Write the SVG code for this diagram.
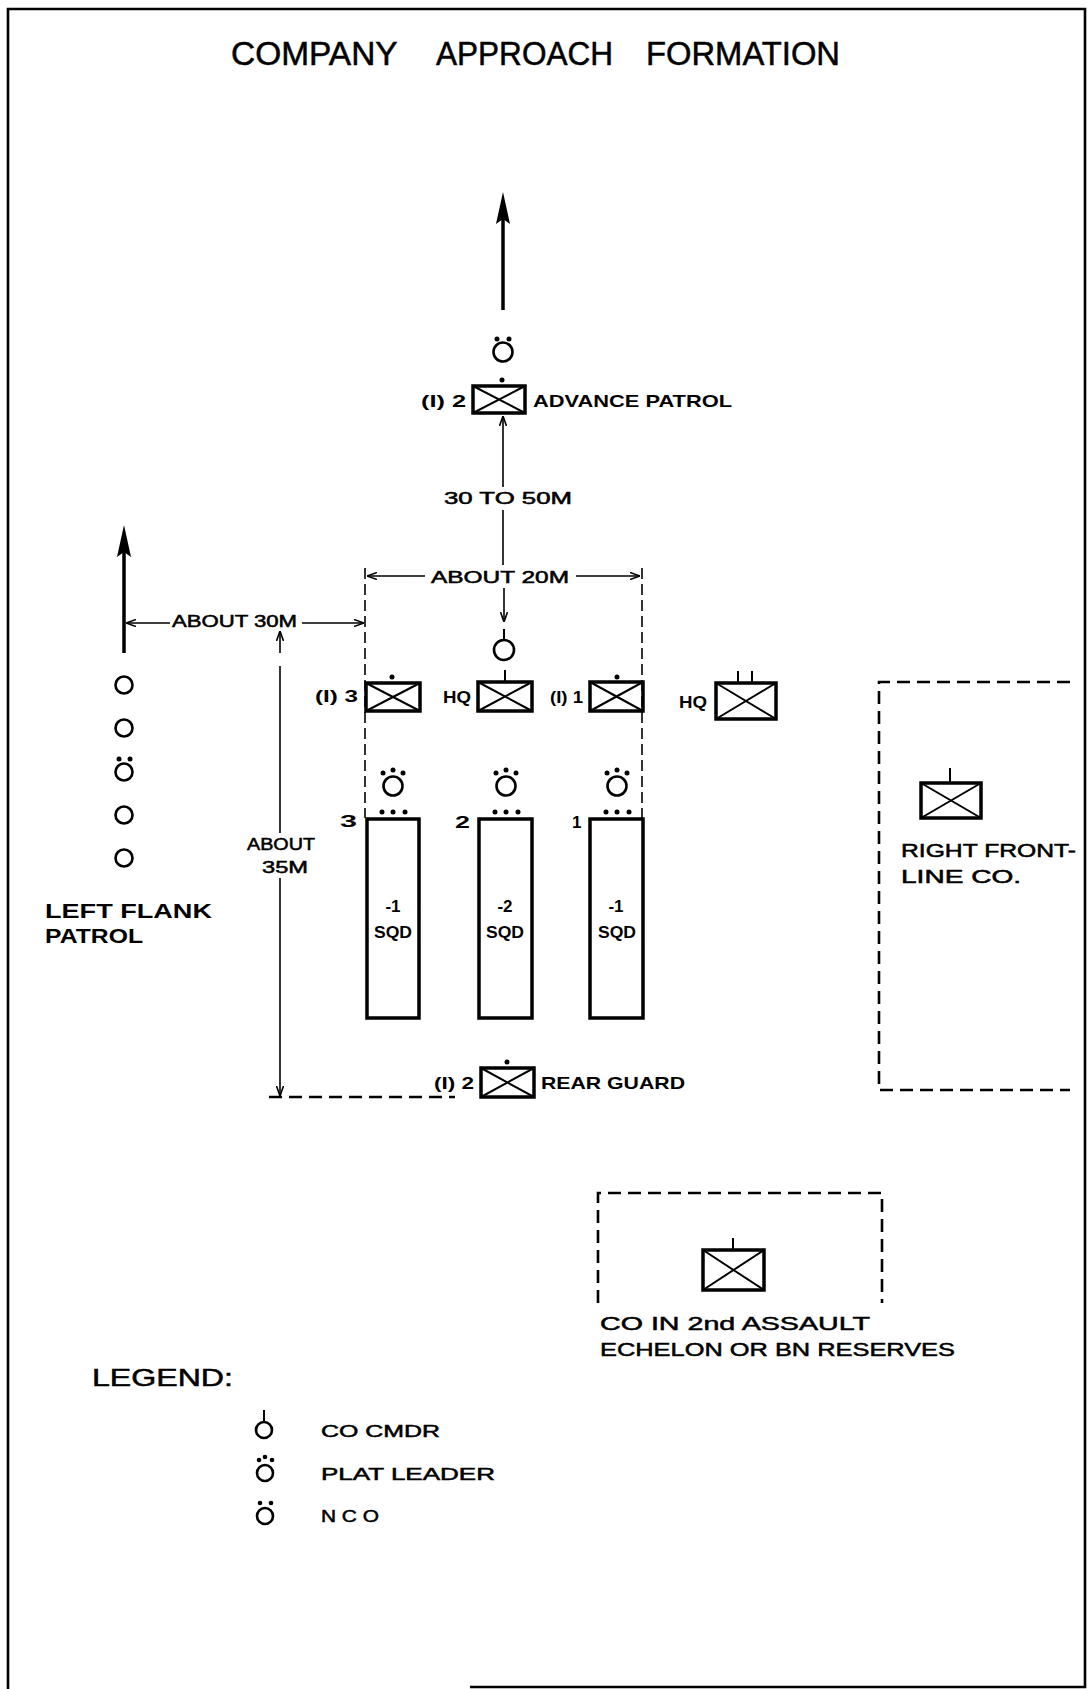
<svg xmlns="http://www.w3.org/2000/svg" width="1088" height="1689" viewBox="0 0 1088 1689">
<style>
text{font-family:"Liberation Sans",Arial,sans-serif;fill:#000}
.b{font-weight:bold;font-size:17px}
.n{font-size:16px;stroke:#000;stroke-width:0.5}
.r{stroke:#000;stroke-width:0.5}
.unit{fill:none;stroke:#000;stroke-width:3.5}
.x{stroke:#000;stroke-width:2;fill:none}
.ln{stroke:#000;stroke-width:1.6;fill:none}
.dash{stroke:#000;stroke-width:1.6;fill:none;stroke-dasharray:11 5}
.bdash{stroke:#000;stroke-width:2.6;fill:none;stroke-dasharray:13 7}
.ring{fill:none;stroke:#000;stroke-width:2.6}
.dot{fill:#000}
.big{stroke:#000;stroke-width:3.5;fill:none}
</style>
<defs>
<marker id="ah" viewBox="0 0 10 8" refX="10" refY="4" markerWidth="10" markerHeight="8" markerUnits="userSpaceOnUse" orient="auto">
<path d="M0,0.5 L10,4 L0,7.5" fill="none" stroke="#000" stroke-width="1.6"/>
</marker>
</defs>
<path d="M470,1687 H1085 V9 H8 V1689" fill="none" stroke="#000" stroke-width="2.6"/>
<text y="65" font-size="33" class="r" stroke-width="0.8"><tspan x="231" textLength="166" lengthAdjust="spacingAndGlyphs">COMPANY</tspan> <tspan x="436" textLength="177" lengthAdjust="spacingAndGlyphs">APPROACH</tspan> <tspan x="646" textLength="194" lengthAdjust="spacingAndGlyphs">FORMATION</tspan></text>

<g id="connectors">
<line class="big" x1="503" y1="215" x2="503" y2="310"/>
<polygon points="503,192 510,224 503,219 496,224"/>
<line class="big" x1="124" y1="548" x2="124" y2="653"/>
<polygon points="124,525 131,557 124,552 117,557"/>
<line class="ln" x1="503" y1="487" x2="503" y2="416" marker-end="url(#ah)"/>
<line class="ln" x1="503" y1="510" x2="503" y2="565"/>
<line class="ln" x1="504" y1="588" x2="504" y2="622" marker-end="url(#ah)"/>
<line class="ln" x1="425" y1="576" x2="367" y2="576" marker-end="url(#ah)"/>
<line class="ln" x1="576" y1="576" x2="640" y2="576" marker-end="url(#ah)"/>
<line class="dash" x1="365" y1="568" x2="365" y2="818"/>
<line class="dash" x1="642" y1="568" x2="642" y2="818"/>
<line class="ln" x1="170" y1="623" x2="126" y2="623" marker-end="url(#ah)"/>
<line class="ln" x1="302" y1="623" x2="364" y2="623" marker-end="url(#ah)"/>
<line class="ln" x1="280" y1="653" x2="280" y2="631" marker-end="url(#ah)"/>
<line class="ln" x1="280" y1="666" x2="280" y2="833"/>
<line class="ln" x1="280" y1="878" x2="280" y2="1096" marker-end="url(#ah)"/>
<line class="bdash" x1="269" y1="1097" x2="455" y2="1097" stroke-width="1.8"/>
<text class="n" x="444" y="504" textLength="128" lengthAdjust="spacingAndGlyphs">30  TO  50M</text>
<text class="n" x="431" y="583" textLength="138" lengthAdjust="spacingAndGlyphs">ABOUT  20M</text>
<text class="n" x="172" y="627" textLength="125" lengthAdjust="spacingAndGlyphs">ABOUT  30M</text>
<text class="n" x="247" y="850" textLength="68" lengthAdjust="spacingAndGlyphs">ABOUT</text>
<text class="n" x="262" y="873" textLength="46" lengthAdjust="spacingAndGlyphs">35M</text>
</g>

<g id="advance-patrol">
<circle class="ring" cx="503" cy="352" r="9.5"/>
<circle class="dot" cx="497" cy="339" r="2.5"/><circle class="dot" cx="509" cy="339" r="2.5"/>
<circle class="dot" cx="502" cy="380" r="2.5"/>
<rect class="unit" x="473" y="386" width="52" height="27"/>
<path class="x" d="M473,386 L525,413 M525,386 L473,413"/>
<text class="b" x="421" y="407" textLength="45" lengthAdjust="spacingAndGlyphs">(I) 2</text>
<text class="b" x="533" y="407" textLength="199" lengthAdjust="spacingAndGlyphs">ADVANCE  PATROL</text>
</g>

<g id="co-hq">
<circle class="ring" cx="504" cy="650" r="10"/>
<line class="x" x1="504" y1="629" x2="504" y2="640"/>
<line class="x" x1="505" y1="670" x2="505" y2="682"/>
<rect class="unit" x="478" y="682" width="54" height="29"/>
<path class="x" d="M478,682 L532,711 M532,682 L478,711"/>
<text class="b" x="443" y="703" textLength="28" lengthAdjust="spacingAndGlyphs">HQ</text>
</g>

<g id="plt3-sec">
<circle class="dot" cx="392" cy="677" r="2.5"/>
<rect class="unit" x="366" y="683" width="54" height="28"/>
<path class="x" d="M366,683 L420,711 M420,683 L366,711"/>
<text class="b" x="315" y="702" textLength="43" lengthAdjust="spacingAndGlyphs">(I) 3</text>
</g>

<g id="plt1-sec">
<circle class="dot" cx="617" cy="677" r="2.5"/>
<rect class="unit" x="590" y="682" width="53" height="29"/>
<path class="x" d="M590,682 L643,711 M643,682 L590,711"/>
<text class="b" x="550" y="703" textLength="33" lengthAdjust="spacingAndGlyphs">(I) 1</text>
</g>

<g id="hq-right">
<line class="x" x1="738" y1="671" x2="738" y2="683"/>
<line class="x" x1="752" y1="671" x2="752" y2="683"/>
<rect class="unit" x="716" y="683" width="60" height="36"/>
<path class="x" d="M716,683 L776,719 M776,683 L716,719"/>
<text class="b" x="679" y="708" textLength="28" lengthAdjust="spacingAndGlyphs">HQ</text>
</g>

<g id="platoon-3">
<circle class="ring" cx="393" cy="786" r="9.5"/>
<circle class="dot" cx="383" cy="773" r="2.5"/><circle class="dot" cx="393" cy="770" r="2.5"/><circle class="dot" cx="403" cy="773" r="2.5"/>
<circle class="dot" cx="382" cy="812" r="2.5"/><circle class="dot" cx="393" cy="812" r="2.5"/><circle class="dot" cx="405" cy="812" r="2.5"/>
<rect class="unit" x="367" y="819" width="52" height="199"/>
<text class="b" x="340" y="827" font-size="20" textLength="17" lengthAdjust="spacingAndGlyphs">3</text>
<text class="b" x="393" y="912" text-anchor="middle" font-size="18">-1</text>
<text class="b" x="393" y="938" text-anchor="middle" textLength="38" lengthAdjust="spacingAndGlyphs">SQD</text>
</g>

<g id="platoon-2">
<circle class="ring" cx="506" cy="786" r="9.5"/>
<circle class="dot" cx="496" cy="773" r="2.5"/><circle class="dot" cx="506" cy="770" r="2.5"/><circle class="dot" cx="516" cy="773" r="2.5"/>
<circle class="dot" cx="495" cy="812" r="2.5"/><circle class="dot" cx="506" cy="812" r="2.5"/><circle class="dot" cx="518" cy="812" r="2.5"/>
<rect class="unit" x="479" y="819" width="53" height="199"/>
<text class="b" x="455" y="828" font-size="20" textLength="15" lengthAdjust="spacingAndGlyphs">2</text>
<text class="b" x="505" y="912" text-anchor="middle" font-size="18">-2</text>
<text class="b" x="505" y="938" text-anchor="middle" textLength="38" lengthAdjust="spacingAndGlyphs">SQD</text>
</g>

<g id="platoon-1">
<circle class="ring" cx="617" cy="786" r="9.5"/>
<circle class="dot" cx="607" cy="773" r="2.5"/><circle class="dot" cx="617" cy="770" r="2.5"/><circle class="dot" cx="627" cy="773" r="2.5"/>
<circle class="dot" cx="606" cy="812" r="2.5"/><circle class="dot" cx="617" cy="812" r="2.5"/><circle class="dot" cx="629" cy="812" r="2.5"/>
<rect class="unit" x="590" y="819" width="53" height="199"/>
<text class="b" x="572" y="828" font-size="20">1</text>
<text class="b" x="616" y="912" text-anchor="middle" font-size="18">-1</text>
<text class="b" x="617" y="938" text-anchor="middle" textLength="38" lengthAdjust="spacingAndGlyphs">SQD</text>
</g>

<g id="left-flank-patrol">
<circle class="ring" cx="124" cy="685" r="8.5"/>
<circle class="ring" cx="124" cy="728" r="8.5"/>
<circle class="ring" cx="124" cy="772" r="8.5"/>
<circle class="dot" cx="119" cy="759" r="2.5"/><circle class="dot" cx="130" cy="759" r="2.5"/>
<circle class="ring" cx="124" cy="815" r="8.5"/>
<circle class="ring" cx="124" cy="858" r="8.5"/>
<text x="45" y="918" font-size="21" font-weight="bold" textLength="167" lengthAdjust="spacingAndGlyphs">LEFT  FLANK</text>
<text x="45" y="943" font-size="21" font-weight="bold" textLength="98" lengthAdjust="spacingAndGlyphs">PATROL</text>
</g>

<g id="rear-guard">
<circle class="dot" cx="507" cy="1062" r="2.5"/>
<rect class="unit" x="481" y="1068" width="53" height="29"/>
<path class="x" d="M481,1068 L534,1097 M534,1068 L481,1097"/>
<text class="b" x="434" y="1089" textLength="40" lengthAdjust="spacingAndGlyphs">(I) 2</text>
<text class="b" x="541" y="1089" textLength="144" lengthAdjust="spacingAndGlyphs">REAR  GUARD</text>
</g>

<g id="right-front-line-co">
<path class="bdash" d="M1070,682 H879 V1090 H1070"/>
<line class="x" x1="950" y1="768" x2="950" y2="783"/>
<rect class="unit" x="921" y="783" width="60" height="35"/>
<path class="x" d="M921,783 L981,818 M981,783 L921,818"/>
<text class="r" x="901" y="857" font-size="18" textLength="175" lengthAdjust="spacingAndGlyphs">RIGHT  FRONT-</text>
<text class="r" x="901" y="883" font-size="18" textLength="120" lengthAdjust="spacingAndGlyphs">LINE  CO.</text>
</g>

<g id="second-echelon-co">
<path class="bdash" d="M598,1303 V1193 H882 V1303"/>
<line class="x" x1="733" y1="1238" x2="733" y2="1250"/>
<rect class="unit" x="703" y="1250" width="61" height="40"/>
<path class="x" d="M703,1250 L764,1290 M764,1250 L703,1290"/>
<text class="r" x="600" y="1330" font-size="19" textLength="270" lengthAdjust="spacingAndGlyphs">CO  IN  2nd  ASSAULT</text>
<text class="r" x="600" y="1356" font-size="19" textLength="355" lengthAdjust="spacingAndGlyphs">ECHELON  OR  BN  RESERVES</text>
</g>

<g id="legend">
<text class="r" x="92" y="1386" font-size="24" textLength="141" lengthAdjust="spacingAndGlyphs">LEGEND:</text>
<circle class="ring" cx="264" cy="1430" r="8" stroke-width="2.4"/>
<line class="x" x1="264" y1="1410" x2="264" y2="1422"/>
<text class="r" x="321" y="1437" font-size="17" textLength="119" lengthAdjust="spacingAndGlyphs">CO   CMDR</text>
<circle class="ring" cx="265" cy="1473" r="8" stroke-width="2.4"/>
<circle class="dot" cx="259" cy="1460" r="2.3"/><circle class="dot" cx="265" cy="1457" r="2.3"/><circle class="dot" cx="272" cy="1460" r="2.3"/>
<text class="r" x="321" y="1480" font-size="17" textLength="174" lengthAdjust="spacingAndGlyphs">PLAT   LEADER</text>
<circle class="ring" cx="265" cy="1516" r="8" stroke-width="2.4"/>
<circle class="dot" cx="260" cy="1503" r="2.3"/><circle class="dot" cx="271" cy="1503" r="2.3"/>
<text class="r" x="321" y="1522" font-size="17" textLength="58" lengthAdjust="spacingAndGlyphs">N C O</text>
</g>
</svg>
